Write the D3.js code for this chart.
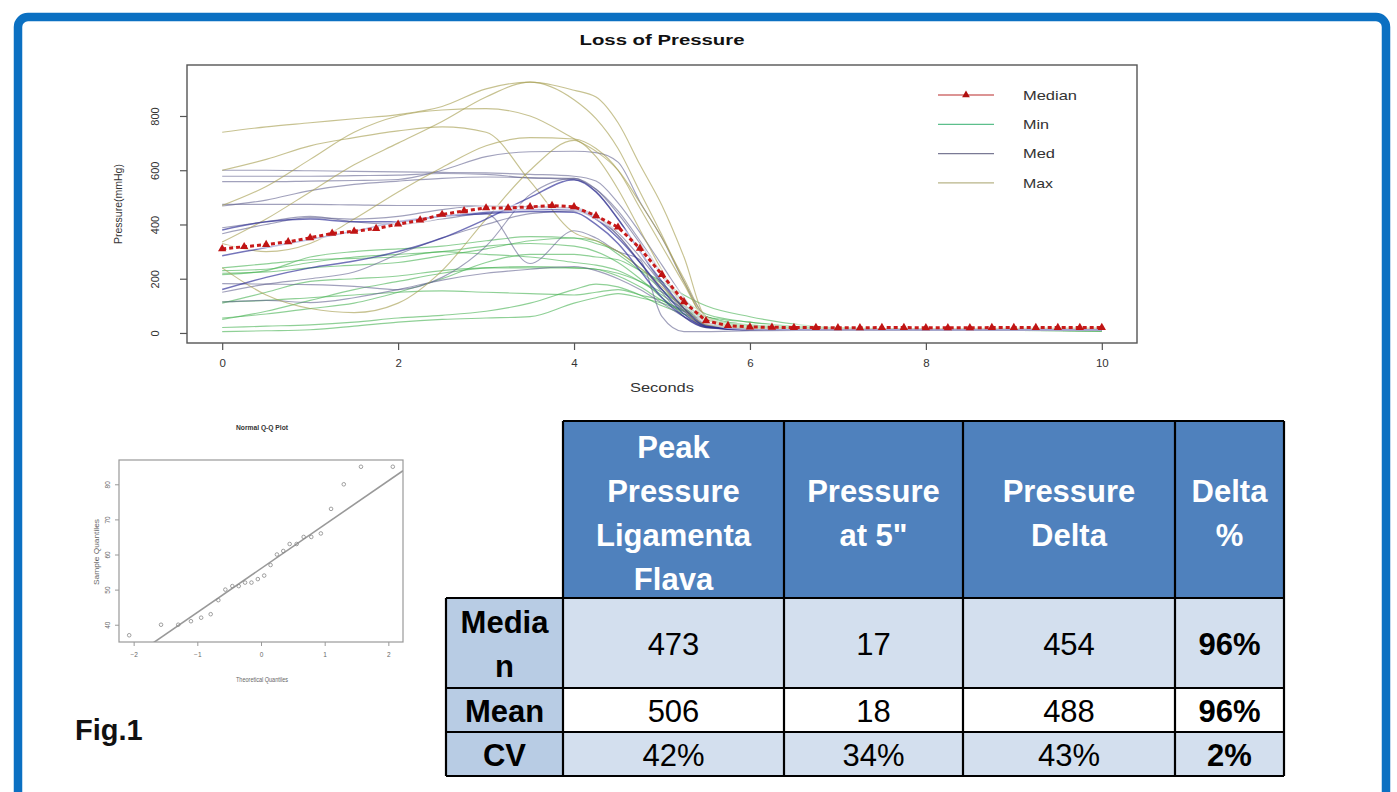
<!DOCTYPE html>
<html><head><meta charset="utf-8">
<script src="https://cdn.jsdelivr.net/npm/d3@7"></script>
<style>
body{margin:0;background:#fff;}
svg{display:block;font-family:'Liberation Sans',Arial,Helvetica,sans-serif;}
</style>
</head><body>
<svg id="c" width="1397" height="792"></svg>
<script>
// ---------------- DATA ----------------
const chartTitle = "Loss of Pressure";
const xLabel = "Seconds";
const yLabel = "Pressure(mmHg)";
const xTicks = [0, 2, 4, 6, 8, 10];
const yTicks = [0, 200, 400, 600, 800];
const timeGrid = [0, 0.5, 1, 1.5, 2, 2.5, 3, 3.5, 4, 4.25, 4.5, 4.75, 5, 5.25, 5.5, 6, 7, 10];

const minSeries = [
  [230,235,260,280,290,300,320,330,320,300,260,200,130,70,30,20,15,10],
  [220,225,240,250,260,285,310,340,350,340,290,230,160,100,60,30,15,8],
  [215,230,280,300,310,320,340,355,350,330,300,240,180,120,70,40,18,8],
  [50,80,120,160,190,220,240,245,240,235,210,170,120,85,60,40,15,8],
  [55,70,90,110,150,200,260,290,290,280,270,230,190,140,100,60,20,8],
  [20,25,30,40,55,65,80,110,160,180,170,140,100,70,50,25,12,8],
  [5,8,12,25,40,50,55,60,110,130,145,130,110,80,60,20,12,8],
  [115,120,130,140,150,155,150,145,140,150,160,140,120,80,50,20,12,8],
  [240,255,270,275,280,300,290,280,260,250,230,190,140,90,60,25,15,8],
  [110,150,190,200,210,230,240,240,240,235,220,190,150,100,60,30,15,8]
];
const medSeries = [
  [600,600,598,596,594,592,590,585,578,560,480,370,250,130,40,15,12,12],
  [578,578,578,580,582,588,585,572,570,530,440,330,210,100,30,12,12,12],
  [558,558,560,562,566,600,650,668,670,665,630,483,350,190,60,14,12,12],
  [468,490,525,548,560,570,575,572,565,530,450,340,220,110,35,12,12,12],
  [474,474,474,472,470,470,468,466,462,430,360,260,160,80,25,12,12,12],
  [388,410,430,410,400,420,440,256,377,350,300,270,60,5,5,8,10,10],
  [366,400,425,420,430,455,468,465,460,430,370,280,180,90,30,12,12,12],
  [182,180,178,172,160,205,320,510,570,520,420,300,180,80,25,12,12,12],
  [150,180,200,225,290,350,400,440,450,420,360,260,150,60,20,12,12,12],
  [114,120,112,130,160,195,220,235,245,230,200,160,110,60,25,12,12,12]
];
const maxSeries = [
  [740,760,775,790,805,835,900,925,895,870,775,620,470,280,60,15,15,18],
  [335,420,520,620,700,780,870,925,860,790,680,520,360,190,50,18,15,18],
  [600,640,690,720,745,760,740,560,370,340,300,240,170,90,30,12,12,15],
  [240,140,90,75,110,230,420,600,710,650,530,380,230,90,20,12,12,15],
  [330,300,330,420,520,610,690,720,715,680,600,460,320,180,50,12,12,15],
  [470,540,640,740,800,822,827,800,716,670,600,480,350,200,60,15,12,15]
];
const blueSeries = [
  [285,315,345,375,410,430,440,448,445,400,330,230,130,60,20,12,12,12],
  [160,205,240,265,300,350,420,500,565,520,420,300,190,90,25,12,12,12],
  [380,410,420,410,410,430,445,455,455,420,350,260,160,70,22,12,12,12]
];
const medianTime = [0,0.25,0.5,0.75,1,1.25,1.5,1.75,2,2.25,2.5,2.75,3,3.25,3.5,3.75,4,4.25,4.5,4.75,5,5.25,5.5,5.75,6,6.25,6.5,6.75,7,7.25,7.5,7.75,8,8.25,8.5,8.75,9,9.25,9.5,9.75,10];
const medianValues = [310,318,326,336,351,367,375,385,401,416,437,450,461,461,465,470,465,432,390,312,215,115,45,27,22,21,20,20,19,19,20,20,19,19,19,20,20,20,20,20,20];
const legendLabels = ["Median", "Min", "Med", "Max"];

const qqTitle = "Normal Q-Q Plot";
const qqXLabel = "Theoretical Quantiles";
const qqYLabel = "Sample Quantiles";
const qqTheoretical = [-2.07,-1.57,-1.30,-1.10,-0.94,-0.79,-0.67,-0.56,-0.45,-0.35,-0.25,-0.15,-0.05,0.05,0.15,0.25,0.35,0.45,0.56,0.67,0.79,0.94,1.10,1.30,1.57,2.07];
const qqSample = [37,40,40,41,42,43,47,50,51,51,52,52,53,54,57,60,61,63,63,65,65,66,73,80,85,85];
const qqXTicks = [-2, -1, 0, 1, 2];
const qqYTicks = [40, 50, 60, 70, 80];
const qqLineIntercept = 56;
const qqLineSlope = 12.5;

const figLabel = "Fig.1";
const headerLines = [["Peak","Pressure","Ligamenta","Flava"], ["Pressure","at 5\""], ["Pressure","Delta"], ["Delta","%"]];
const rowLabelLines = [["Media","n"], ["Mean"], ["CV"]];
const medianRow = ["473", "17", "454", "96%"];
const meanRow = ["506", "18", "488", "96%"];
const cvRow = ["42%", "34%", "43%", "2%"];

// ---------------- DRAW ----------------
const svg = d3.select("#c");

// outer blue frame
svg.append("rect").attr("x", 18).attr("y", 17).attr("width", 1368).attr("height", 900)
  .attr("rx", 10).attr("fill", "none").attr("stroke", "#0b70c2").attr("stroke-width", 8.5);

// ---- main chart ----
const x = d3.scaleLinear().domain([-0.4, 10.4]).range([187, 1137]);
const y = d3.scaleLinear().domain([-37, 988]).range([343, 65]);
const g = svg.append("g");

g.append("text").attr("x", 662).attr("y", 45).attr("text-anchor", "middle")
  .attr("font-size", 14).attr("font-weight", "bold").attr("fill", "#111")
  .attr("textLength", 165).attr("lengthAdjust", "spacingAndGlyphs").text(chartTitle);

const line = d3.line().x((d, i) => x(timeGrid[i])).y(d => y(d)).curve(d3.curveMonotoneX);

function drawGroup(series, color, width, opacity) {
  g.append("g").selectAll("path").data(series).join("path")
    .attr("d", line).attr("fill", "none").attr("stroke", color)
    .attr("stroke-width", width).attr("stroke-opacity", opacity);
}
drawGroup(minSeries, "#45b050", 1.15, 0.6);
drawGroup(medSeries, "#62628f", 1.15, 0.6);
drawGroup(maxSeries, "#a9a256", 1.15, 0.65);
drawGroup(blueSeries, "#2a2a95", 1.5, 0.65);

// median
const medLine = d3.line().x((d, i) => x(medianTime[i])).y(d => y(d));
g.append("path").datum(medianValues).attr("d", medLine).attr("fill", "none")
  .attr("stroke", "#fff").attr("stroke-width", 7).attr("stroke-opacity", 0.55);
g.append("path").datum(medianValues).attr("d", medLine).attr("fill", "none")
  .attr("stroke", "#c81a1a").attr("stroke-width", 3).attr("stroke-dasharray", "4,3");
g.append("g").selectAll("path").data(medianValues).join("path")
  .attr("transform", (d, i) => `translate(${x(medianTime[i])},${y(d)})`)
  .attr("d", d3.symbol(d3.symbolTriangle, 30)).attr("fill", "#c01414");

// box
g.append("rect").attr("x", 187).attr("y", 65).attr("width", 950).attr("height", 278)
  .attr("fill", "none").attr("stroke", "#555").attr("stroke-width", 1.4);

// axes
const xa = g.append("g").attr("transform", "translate(0,343)")
  .call(d3.axisBottom(x).tickValues(xTicks).tickSize(7).tickPadding(9).tickFormat(d3.format("d")));
xa.select(".domain").remove();
xa.selectAll("line").attr("stroke", "#555").attr("stroke-width", 1.2);
xa.selectAll("text").attr("font-size", 11.5).attr("fill", "#333").attr("font-family", "'Liberation Sans',Arial,sans-serif");

const ya = g.append("g").attr("transform", "translate(187,0)")
  .call(d3.axisLeft(y).tickValues(yTicks).tickSize(7).tickFormat(d3.format("d")));
ya.select(".domain").remove();
ya.selectAll("line").attr("stroke", "#555").attr("stroke-width", 1.2);
ya.selectAll("text").attr("font-size", 11).attr("fill", "#333")
  .attr("font-family", "'Liberation Sans',Arial,sans-serif")
  .attr("transform", "rotate(-90)").attr("x", 0).attr("y", -28).attr("dy", 0)
  .attr("text-anchor", "middle");

g.append("text").attr("x", 662).attr("y", 392).attr("text-anchor", "middle")
  .attr("font-size", 12.5).attr("fill", "#333").attr("textLength", 64)
  .attr("lengthAdjust", "spacingAndGlyphs").text(xLabel);
g.append("text").attr("transform", "translate(122,204) rotate(-90)").attr("text-anchor", "middle")
  .attr("font-size", 10.5).attr("fill", "#333").text(yLabel);

// legend
const legendColors = ["#d07070", "#5cbf8c", "#7a7a95", "#b8b488"];
const legendW = [54, 26, 32, 30];
const lg = g.append("g");
legendLabels.forEach((lab, i) => {
  const ly = 95 + i * 29.3;
  lg.append("line").attr("x1", 938).attr("x2", 994).attr("y1", ly).attr("y2", ly)
    .attr("stroke", legendColors[i]).attr("stroke-width", 1.3);
  if (i === 0) {
    lg.append("path").attr("transform", `translate(966,${ly})`)
      .attr("d", d3.symbol(d3.symbolTriangle, 26)).attr("fill", "#b01010");
  }
  lg.append("text").attr("x", 1023).attr("y", ly).attr("dy", "0.36em")
    .attr("font-size", 13).attr("fill", "#333").attr("textLength", legendW[i])
    .attr("lengthAdjust", "spacingAndGlyphs").text(lab);
});

// ---- Q-Q plot ----
const qx = d3.scaleLinear().domain([-2.23, 2.23]).range([119, 403]);
const qy = d3.scaleLinear().domain([35.08, 86.92]).range([642, 460]);
const q = svg.append("g");
q.append("text").attr("x", 262).attr("y", 430).attr("text-anchor", "middle")
  .attr("font-size", 7).attr("font-weight", "bold").attr("fill", "#333")
  .attr("textLength", 52).attr("lengthAdjust", "spacingAndGlyphs").text(qqTitle);
q.append("clipPath").attr("id", "qclip").append("rect")
  .attr("x", 119).attr("y", 460).attr("width", 284).attr("height", 182);
q.append("line").attr("clip-path", "url(#qclip)")
  .attr("x1", qx(-2.23)).attr("y1", qy(qqLineIntercept + qqLineSlope * -2.23))
  .attr("x2", qx(2.23)).attr("y2", qy(qqLineIntercept + qqLineSlope * 2.23))
  .attr("stroke", "#999").attr("stroke-width", 1.6);
q.append("g").selectAll("circle").data(qqSample).join("circle")
  .attr("cx", (d, i) => qx(qqTheoretical[i])).attr("cy", d => qy(d)).attr("r", 1.8)
  .attr("fill", "none").attr("stroke", "#888").attr("stroke-width", 0.8);
q.append("rect").attr("x", 119).attr("y", 460).attr("width", 284).attr("height", 182)
  .attr("fill", "none").attr("stroke", "#999").attr("stroke-width", 1.2);
const qxa = q.append("g").attr("transform", "translate(0,642)")
  .call(d3.axisBottom(qx).tickValues(qqXTicks).tickSize(4).tickPadding(6).tickFormat(d3.format("d")));
qxa.select(".domain").remove();
qxa.selectAll("line").attr("stroke", "#999");
qxa.selectAll("text").attr("font-size", 6.5).attr("fill", "#666").attr("font-family", "'Liberation Sans',Arial,sans-serif");
const qya = q.append("g").attr("transform", "translate(119,0)")
  .call(d3.axisLeft(qy).tickValues(qqYTicks).tickSize(4).tickFormat(d3.format("d")));
qya.select(".domain").remove();
qya.selectAll("line").attr("stroke", "#999");
qya.selectAll("text").attr("font-size", 6.5).attr("fill", "#666")
  .attr("font-family", "'Liberation Sans',Arial,sans-serif")
  .attr("transform", "rotate(-90)").attr("x", 0).attr("y", -9).attr("dy", 0).attr("text-anchor", "middle");
q.append("text").attr("x", 262).attr("y", 682).attr("text-anchor", "middle")
  .attr("font-size", 6.5).attr("fill", "#666").attr("textLength", 52)
  .attr("lengthAdjust", "spacingAndGlyphs").text(qqXLabel);
q.append("text").attr("transform", "translate(99,552) rotate(-90)").attr("text-anchor", "middle")
  .attr("font-size", 6.5).attr("fill", "#666").attr("textLength", 66)
  .attr("lengthAdjust", "spacingAndGlyphs").text(qqYLabel);

// Fig label
svg.append("text").attr("x", 75).attr("y", 740).attr("font-size", 29).attr("font-weight", "bold")
  .attr("fill", "#111").text(figLabel);

// ---- table ----
const colX = [446, 563, 784, 963, 1175, 1284];
const rowY = [421, 598, 688, 732, 776];
const t = svg.append("g");
const FS = 31;
headerLines.forEach((lines, c) => {
  const x0 = colX[c + 1], x1 = colX[c + 2];
  t.append("rect").attr("x", x0).attr("y", rowY[0]).attr("width", x1 - x0).attr("height", rowY[1] - rowY[0])
    .attr("fill", "#4f81bd");
  const cy = (rowY[0] + rowY[1]) / 2;
  lines.forEach((ln, k) => {
    t.append("text").attr("x", (x0 + x1) / 2).attr("y", cy - (lines.length - 1) * 22 + 14 + k * 44)
      .attr("text-anchor", "middle").attr("font-size", FS).attr("font-weight", "bold")
      .attr("fill", "#fff").text(ln);
  });
});
const bodyRows = [medianRow, meanRow, cvRow];
const bodyFill = ["#d3dfee", "#ffffff", "#d3dfee"];
bodyRows.forEach((row, r) => {
  const y0 = rowY[r + 1], y1 = rowY[r + 2];
  const cy = (y0 + y1) / 2;
  t.append("rect").attr("x", colX[0]).attr("y", y0).attr("width", colX[1] - colX[0]).attr("height", y1 - y0)
    .attr("fill", "#b8cce4");
  const lines = rowLabelLines[r];
  lines.forEach((ln, k) => {
    t.append("text").attr("x", (colX[0] + colX[1]) / 2).attr("y", cy - (lines.length - 1) * 22 + 12 + k * 44)
      .attr("text-anchor", "middle").attr("font-size", FS).attr("font-weight", "bold")
      .attr("fill", "#000").text(ln);
  });
  row.forEach((val, c) => {
    const x0 = colX[c + 1], x1 = colX[c + 2];
    t.append("rect").attr("x", x0).attr("y", y0).attr("width", x1 - x0).attr("height", y1 - y0)
      .attr("fill", bodyFill[r]);
    t.append("text").attr("x", (x0 + x1) / 2).attr("y", cy + 12)
      .attr("text-anchor", "middle").attr("font-size", FS)
      .attr("font-weight", c === 3 ? "bold" : "normal").attr("fill", "#000").text(val);
  });
});
const bw = 2.2;
t.append("line").attr("x1", colX[1]).attr("x2", colX[5]).attr("y1", rowY[0]).attr("y2", rowY[0]).attr("stroke", "#000").attr("stroke-width", bw);
[1, 2, 3, 4].forEach(i => {
  t.append("line").attr("x1", colX[0]).attr("x2", colX[5]).attr("y1", rowY[i]).attr("y2", rowY[i]).attr("stroke", "#000").attr("stroke-width", bw);
});
t.append("line").attr("x1", colX[0]).attr("x2", colX[0]).attr("y1", rowY[1]).attr("y2", rowY[4]).attr("stroke", "#000").attr("stroke-width", bw);
[1, 2, 3, 4, 5].forEach(i => {
  t.append("line").attr("x1", colX[i]).attr("x2", colX[i]).attr("y1", rowY[0]).attr("y2", rowY[4]).attr("stroke", "#000").attr("stroke-width", bw);
});
</script>
</body></html>
